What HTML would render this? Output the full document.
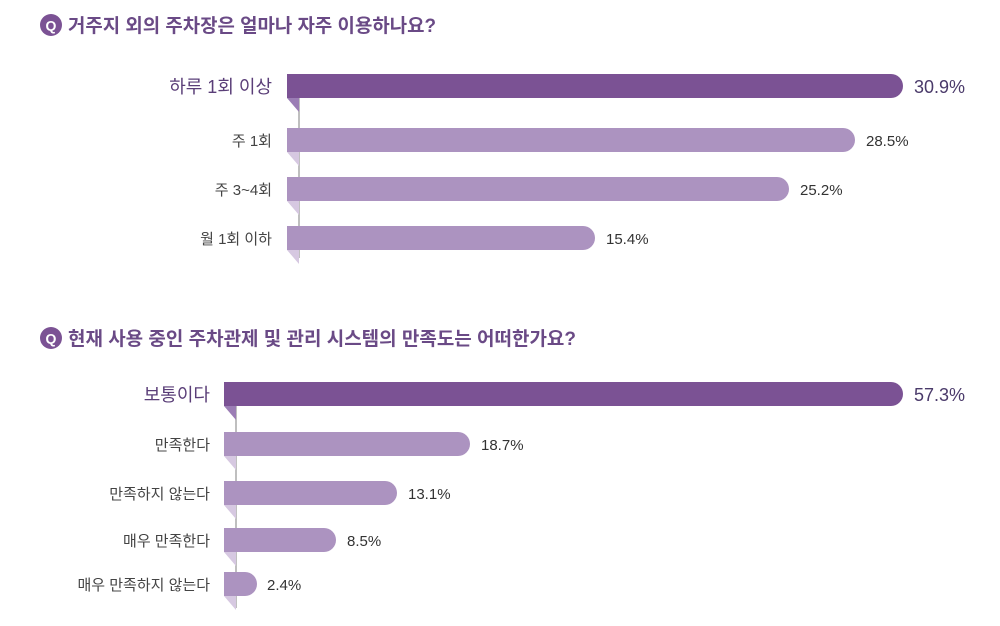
<!DOCTYPE html>
<html><head><meta charset="utf-8"><style>
html,body{margin:0;padding:0;background:#fff;width:1000px;height:626px;overflow:hidden}
svg{display:block;font-family:"Liberation Sans","Noto Sans CJK KR",sans-serif}
</style></head><body>
<svg width="1000" height="626" viewBox="0 0 1000 626" xmlns="http://www.w3.org/2000/svg">
<!-- Title 1 -->
<circle cx="51" cy="25" r="11" fill="#7b5294"/>
<text x="51" y="30.5" font-size="14" font-weight="bold" fill="#fff" text-anchor="middle">Q</text>
<text x="68" y="32" font-size="19" font-weight="bold" fill="#6a4a86" textLength="368" lengthAdjust="spacingAndGlyphs">거주지 외의 주차장은 얼마나 자주 이용하나요?</text>

<!-- Chart 1 -->
<line x1="299" y1="98" x2="299" y2="258" stroke="#aaa" stroke-width="1.5"/>
<polygon points="287,98 299,98 299,112" fill="#9b7db5"/>
<polygon points="287,152 299,152 299,166" fill="#d6c8e1"/>
<polygon points="287,201 299,201 299,215" fill="#d6c8e1"/>
<polygon points="287,250 299,250 299,264" fill="#d6c8e1"/>
<path d="M287,74 H891 A12,12 0 0 1 891,98 H287 Z" fill="#7b5294"/>
<path d="M287,128 H843 A12,12 0 0 1 843,152 H287 Z" fill="#ac93c0"/>
<path d="M287,177 H777 A12,12 0 0 1 777,201 H287 Z" fill="#ac93c0"/>
<path d="M287,226 H583 A12,12 0 0 1 583,250 H287 Z" fill="#ac93c0"/>
<g font-size="18" fill="#5a3e78" text-anchor="end"><text x="272" y="93">하루 1회 이상</text></g>
<g font-size="15" fill="#444" text-anchor="end">
<text x="272" y="146">주 1회</text><text x="272" y="195">주 3~4회</text><text x="272" y="244">월 1회 이하</text></g>
<text x="914" y="93" font-size="18" fill="#4a3a6a">30.9%</text>
<g font-size="15" fill="#333"><text x="866" y="146">28.5%</text><text x="800" y="195">25.2%</text><text x="606" y="244">15.4%</text></g>

<!-- Title 2 -->
<circle cx="51" cy="338" r="11" fill="#7b5294"/>
<text x="51" y="343.5" font-size="14" font-weight="bold" fill="#fff" text-anchor="middle">Q</text>
<text x="68" y="345" font-size="19" font-weight="bold" fill="#6a4a86" textLength="508" lengthAdjust="spacingAndGlyphs">현재 사용 중인 주차관제 및 관리 시스템의 만족도는 어떠한가요?</text>

<!-- Chart 2 -->
<line x1="236" y1="406" x2="236" y2="608" stroke="#aaa" stroke-width="1.5"/>
<polygon points="224,406 236,406 236,420" fill="#9b7db5"/>
<polygon points="224,456 236,456 236,470" fill="#d6c8e1"/>
<polygon points="224,505 236,505 236,519" fill="#d6c8e1"/>
<polygon points="224,552 236,552 236,566" fill="#d6c8e1"/>
<polygon points="224,596 236,596 236,610" fill="#d6c8e1"/>
<path d="M224,382 H891 A12,12 0 0 1 891,406 H224 Z" fill="#7b5294"/>
<path d="M224,432 H458 A12,12 0 0 1 458,456 H224 Z" fill="#ac93c0"/>
<path d="M224,481 H385 A12,12 0 0 1 385,505 H224 Z" fill="#ac93c0"/>
<path d="M224,528 H324 A12,12 0 0 1 324,552 H224 Z" fill="#ac93c0"/>
<path d="M224,572 H245 A12,12 0 0 1 245,596 H224 Z" fill="#ac93c0"/>
<text x="210" y="401" font-size="18" fill="#5a3e78" text-anchor="end">보통이다</text>
<g font-size="15" fill="#444" text-anchor="end">
<text x="210" y="450">만족한다</text><text x="210" y="499">만족하지 않는다</text><text x="210" y="546">매우 만족한다</text><text x="210" y="590">매우 만족하지 않는다</text></g>
<text x="914" y="401" font-size="18" fill="#4a3a6a">57.3%</text>
<g font-size="15" fill="#333"><text x="481" y="450">18.7%</text><text x="408" y="499">13.1%</text><text x="347" y="546">8.5%</text><text x="267" y="590">2.4%</text></g>
</svg>
</body></html>
